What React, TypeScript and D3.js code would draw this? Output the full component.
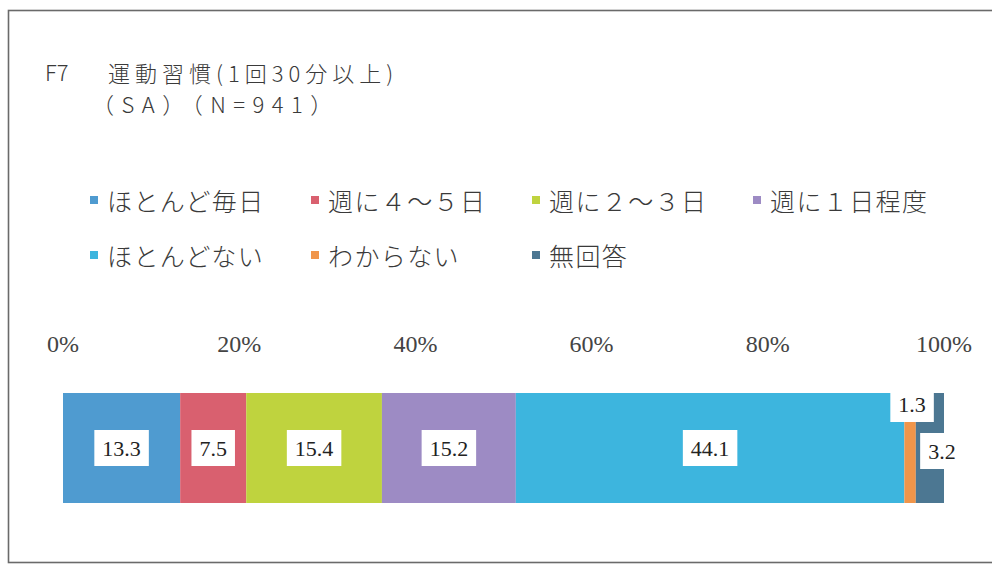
import React, { useEffect, useRef } from 'react';
import * as d3 from 'd3';

// chart data
const categories = ['ほとんど毎日', '週に４～５日', '週に２～３日', '週に１日程度', 'ほとんどない', 'わからない', '無回答'];
const values = [13.3, 7.5, 15.4, 15.2, 44.1, 1.3, 3.2];
const colors = ['#4f9bd0', '#d9606f', '#bfd33e', '#9d8bc4', '#3db5de', '#f0954a', '#4c7792'];
const tickValues = [0, 20, 40, 60, 80, 100];

const titleLine1 = '運動習慣(1回30分以上)';
const titleLine2 = '（SA）（N=941）';

const W = 992;
const H = 567;

export default function App() {
  const svgRef = useRef<SVGSVGElement>(null);

  useEffect(() => {
    const svg = d3.select(svgRef.current);
    svg.selectAll('*').remove();

    // frame
    svg.append('rect')
      .attr('x', 8.5).attr('y', 10.5)
      .attr('width', W).attr('height', 552)
      .attr('fill', '#fff')
      .attr('stroke', '#6a6a6a')
      .attr('stroke-width', 1.6);

    // title
    const titleFont = '"Noto Sans CJK JP", "Noto Sans", sans-serif';
    svg.append('text')
      .attr('x', 45).attr('y', 81)
      .attr('font-family', titleFont).attr('font-size', 22)
      .attr('font-weight', 300)
      .attr('fill', '#3a3a3a')
      .text('F7');
    svg.append('text')
      .attr('x', 108).attr('y', 82)
      .attr('font-family', titleFont).attr('font-size', 22)
      .attr('font-weight', 300)
      .attr('letter-spacing', 5)
      .attr('fill', '#3a3a3a')
      .text(titleLine1);
    svg.append('text')
      .attr('x', 92).attr('y', 113)
      .attr('font-family', titleFont).attr('font-size', 22)
      .attr('font-weight', 300)
      .attr('letter-spacing', 7.5)
      .attr('fill', '#3a3a3a')
      .text(titleLine2);

    // legend
    const legend = svg.append('g');
    const colW = 221;
    categories.forEach((c, i) => {
      const col = i < 4 ? i : i - 4;
      const row = i < 4 ? 0 : 1;
      const lx = 90 + col * colW;
      const ly = row === 0 ? 200 : 255;
      legend.append('rect')
        .attr('x', lx).attr('y', ly - 4)
        .attr('width', 8).attr('height', 8)
        .attr('fill', colors[i]);
      legend.append('text')
        .attr('x', lx + 17).attr('y', ly)
        .attr('dominant-baseline', 'central')
        .attr('font-family', titleFont).attr('font-size', 25)
        .attr('font-weight', 300)
        .attr('letter-spacing', 1.4)
        .attr('fill', '#3a3a3a')
        .text(c);
    });

    // scale + axis labels
    const x = d3.scaleLinear().domain([0, 100]).range([63, 944]);
    const barTop = 393;
    const barH = 110;

    svg.append('g')
      .selectAll('text')
      .data(tickValues)
      .enter()
      .append('text')
      .attr('x', d => x(d))
      .attr('y', 352)
      .attr('text-anchor', 'middle')
      .attr('font-family', '"Liberation Serif", "Times New Roman", serif')
      .attr('font-size', 24)
      .attr('fill', '#444')
      .text(d => `${d}%`);

    // stacked segments
    const cum = d3.cumsum(values);
    const segs = values.map((v, i) => ({ v, i, x0: cum[i] - v, x1: cum[i] }));

    svg.append('g')
      .selectAll('rect')
      .data(segs)
      .enter()
      .append('rect')
      .attr('x', d => x(d.x0))
      .attr('y', barTop)
      .attr('width', d => x(d.x1) - x(d.x0))
      .attr('height', barH)
      .attr('fill', d => colors[d.i]);

    // value labels, small segments nudged off the bar
    const nudge: Record<string, [number, number]> = {
      'わからない': [2, -44],
      '無回答': [12, 3],
    };
    const labels = svg.append('g');
    segs.forEach(d => {
      const [dx, dy] = nudge[categories[d.i]] || [0, 0];
      const cx = (x(d.x0) + x(d.x1)) / 2 + dx;
      const cy = barTop + barH / 2 + dy;
      const g = labels.append('g');
      const box = g.append('rect').attr('fill', '#fff');
      const t = g.append('text')
        .attr('x', cx).attr('y', cy + 8)
        .attr('text-anchor', 'middle')
        .attr('font-family', '"Liberation Serif", "Times New Roman", serif')
        .attr('font-size', 22)
        .attr('fill', '#222')
        .text(d3.format('.1f')(d.v));
      const tw = (t.node() as SVGTextElement).getComputedTextLength();
      box.attr('x', cx - tw / 2 - 8)
        .attr('y', cy - 18)
        .attr('width', tw + 16)
        .attr('height', 36);
    });
  }, []);

  return (
    <div style={{ position: 'absolute', left: 0, top: 0, width: W, height: H, background: '#fff' }}>
      <svg ref={svgRef} width={W} height={H} style={{ display: 'block' }} />
    </div>
  );
}
